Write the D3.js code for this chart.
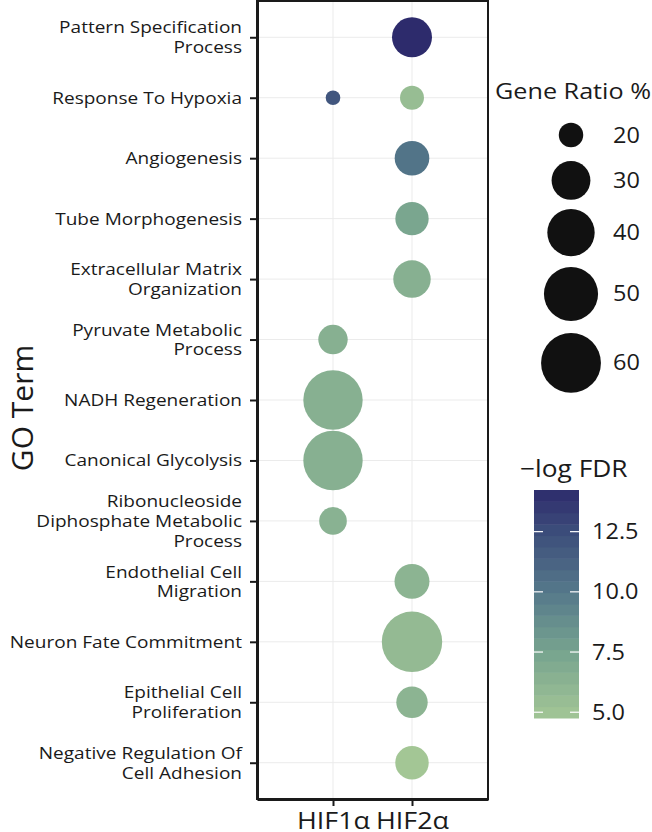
<!DOCTYPE html>
<html><head><meta charset="utf-8">
<script src="https://cdn.jsdelivr.net/npm/d3@7"></script>
<style>body{margin:0;background:#fff}svg{display:block}text{font-family:"Open Sans",sans-serif;fill:#1a1a1a}</style>
</head><body><svg id="c" width="652" height="832"></svg>
<script>
// ---- data ----
const terms = [
  "Pattern Specification\nProcess",
  "Response To Hypoxia",
  "Angiogenesis",
  "Tube Morphogenesis",
  "Extracellular Matrix\nOrganization",
  "Pyruvate Metabolic\nProcess",
  "NADH Regeneration",
  "Canonical Glycolysis",
  "Ribonucleoside\nDiphosphate Metabolic\nProcess",
  "Endothelial Cell\nMigration",
  "Neuron Fate Commitment",
  "Epithelial Cell\nProliferation",
  "Negative Regulation Of\nCell Adhesion"
];
const groups = ["HIF1α", "HIF2α"];
// HIF1α points: term index, gene ratio %, -log FDR
const hif1Term  = [1, 5, 6, 7, 8];
const hif1Ratio = [18.0, 22.5, 59.1, 59.1, 21.5];
const hif1FDR   = [12.0, 6.5, 6.5, 6.5, 6.4];
// HIF2α points
const hif2Term  = [0, 1, 2, 3, 4, 9, 10, 11, 12];
const hif2Ratio = [31.2, 19.8, 26.2, 25.2, 28.7, 26.5, 61.0, 23.8, 25.3];
const hif2FDR   = [14.23, 5.5, 10.3, 7.3, 6.5, 6.2, 5.7, 6.2, 4.76];
const sizeBreaks = [20, 30, 40, 50, 60];
const colorBreaks = [5.0, 7.5, 10.0, 12.5];
// colour palette stops (-log FDR value -> colour)
const paletteVals = [4.76, 7.5, 10.0, 12.5, 14.23];
const paletteCols = ["#a3c695", "#77a48f", "#55798a", "#3c4d7b", "#2d2b6c"];

const pts = [];
hif1Term.forEach((t,i)=>pts.push({term:terms[t], g:groups[0], ratio:hif1Ratio[i], fdr:hif1FDR[i]}));
hif2Term.forEach((t,i)=>pts.push({term:terms[t], g:groups[1], ratio:hif2Ratio[i], fdr:hif2FDR[i]}));

const svg = d3.select("#c");
const P = {l:257, r:488, t:1, b:799};
const SX = 1.12; // horizontal text stretch to match reference glyph widths

const x = d3.scalePoint().domain(groups).range([P.l, P.r]).padding(0.962);
const y = d3.scalePoint().domain(terms).range([P.t, P.b]).padding(0.6);

const rExt = d3.extent(pts, d=>d.ratio);
const rs = d3.scaleSqrt().domain([0, rExt[1]-rExt[0]]).range([7.3, 30.2]);
const rad = v => rs(Math.max(0, v - rExt[0]));

const cExt = d3.extent(pts, d=>d.fdr);
const col = d3.scaleLinear().domain(paletteVals).range(paletteCols).interpolate(d3.interpolateLab).clamp(true);

// grid
const g = svg.append("g");
g.selectAll(".gx").data(groups).join("line")
  .attr("x1", d=>x(d)).attr("x2", d=>x(d)).attr("y1", P.t).attr("y2", P.b)
  .attr("stroke", "#ebebeb").attr("stroke-width", 1);
g.selectAll(".gy").data(terms).join("line")
  .attr("y1", d=>y(d)).attr("y2", d=>y(d)).attr("x1", P.l).attr("x2", P.r)
  .attr("stroke", "#ebebeb").attr("stroke-width", 1);

// points
g.selectAll("circle.pt").data(pts).join("circle").attr("class","pt")
  .attr("cx", d=>x(d.g)).attr("cy", d=>y(d.term)).attr("r", d=>rad(d.ratio))
  .attr("fill", d=>col(d.fdr));

// border
svg.append("rect").attr("x", P.l).attr("y", P.t).attr("width", P.r-P.l).attr("height", P.b-P.t)
  .attr("fill", "none").attr("stroke", "#1a1a1a").attr("stroke-width", 2);

// y axis
const ya = svg.append("g").attr("transform", `translate(${P.l},0)`)
  .call(d3.axisLeft(y).tickSize(7).tickSizeOuter(0).tickFormat(""));
ya.select(".domain").attr("stroke", "#1a1a1a").attr("stroke-width", 3);
ya.selectAll(".tick line").attr("stroke", "#1a1a1a").attr("stroke-width", 2);
const lab = svg.append("g").attr("transform", `translate(242,0) scale(${SX},1)`);
terms.forEach(t=>{
  const lines = t.split("\n");
  const lh = 19.6;
  const tx = lab.append("text").attr("text-anchor","end").attr("font-size", 17);
  lines.forEach((ln,i)=>{
    tx.append("tspan").attr("x", 0)
      .attr("y", y(t) + (i - (lines.length-1)/2)*lh + 6)
      .text(ln);
  });
});

// x axis
const xa = svg.append("g").attr("transform", `translate(0,${P.b})`)
  .call(d3.axisBottom(x).tickSize(7).tickSizeOuter(0).tickPadding(6));
xa.select(".domain").attr("stroke", "#1a1a1a").attr("stroke-width", 3);
xa.selectAll(".tick line").attr("stroke", "#1a1a1a").attr("stroke-width", 2);
xa.selectAll(".tick text").attr("font-size", 24).attr("fill", "#1a1a1a")
  .style("font-family", '"Open Sans",sans-serif')
  .attr("transform", `scale(${SX},1)`);

// y title
svg.append("text").attr("transform", "translate(33,408) rotate(-90)")
  .attr("text-anchor", "middle").attr("font-size", 30).text("GO Term");

// size legend
svg.append("text").attr("transform", `translate(495,99) scale(${SX},1)`).attr("font-size", 22.5).text("Gene Ratio %");
let cy = 113;
const keyH = sizeBreaks.map(v => Math.max(44, 2*rad(v)*1.21));
sizeBreaks.forEach((v,i)=>{
  const c = cy + keyH[i]/2;
  svg.append("circle").attr("cx", 571).attr("cy", c).attr("r", rad(v)).attr("fill", "#111");
  svg.append("text").attr("transform", `translate(613,${c + 7.5}) scale(${SX},1)`).attr("font-size", 21).text(v);
  cy += keyH[i];
});

// colour legend
svg.append("text").attr("transform", `translate(520,477) scale(${SX},1)`).attr("font-size", 23.5).text("−log FDR");
const bar = {x:534, w:45, t:490, b:718};
const cy2 = d3.scaleLinear().domain(cExt).range([bar.b, bar.t]);
const nb = 20;
const bins = d3.range(nb);
svg.selectAll("rect.bin").data(bins).join("rect").attr("class","bin")
  .attr("x", bar.x).attr("width", bar.w)
  .attr("y", i => bar.b - (i+1)*(bar.b-bar.t)/nb)
  .attr("height", (bar.b-bar.t)/nb + 0.5)
  .attr("fill", i => col(cExt[0] + (i+0.5)/nb*(cExt[1]-cExt[0])));
colorBreaks.forEach(v=>{
  const yy = cy2(v);
  svg.append("line").attr("x1", bar.x).attr("x2", bar.x+9).attr("y1", yy).attr("y2", yy)
    .attr("stroke", "#fff").attr("stroke-width", 1.2);
  svg.append("line").attr("x1", bar.x+bar.w-9).attr("x2", bar.x+bar.w).attr("y1", yy).attr("y2", yy)
    .attr("stroke", "#fff").attr("stroke-width", 1.2);
  svg.append("text").attr("transform", `translate(592,${yy + 7.5}) scale(${SX},1)`).attr("font-size", 21).text(v.toFixed(1));
});
</script></body></html>
